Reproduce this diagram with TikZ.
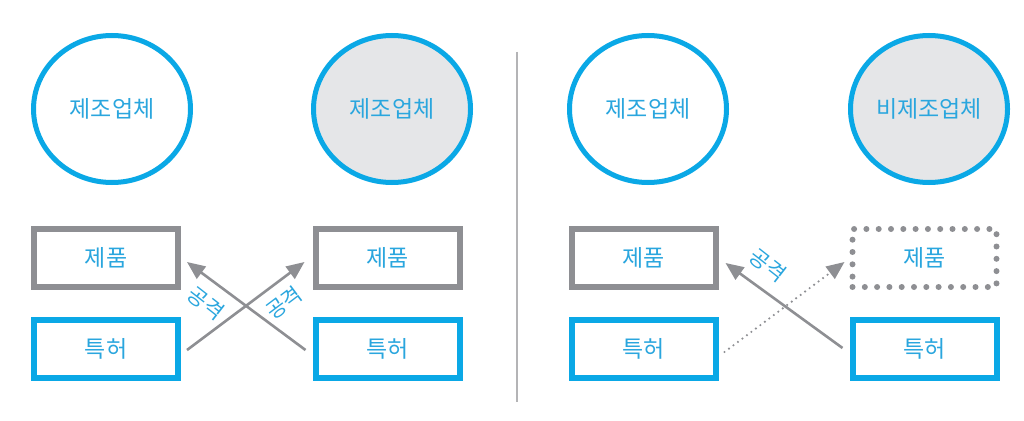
\documentclass[tikz,border=0pt]{standalone}
\usepackage{fontspec}
\setmainfont{Noto Sans CJK KR}
\usetikzlibrary{shapes.geometric,arrows.meta}
\definecolor{cblue}{HTML}{0AA8E6}
\definecolor{tblue}{HTML}{2AA6DE}
\definecolor{cgray}{HTML}{8E8F93}
\definecolor{fgray}{HTML}{E5E6E8}
\definecolor{lgray}{HTML}{B4B4B6}
\tikzset{
  firm/.style={ellipse, draw=cblue, line width=5pt, minimum width=157pt, minimum height=147pt, inner sep=0pt, text=tblue, font=\fontsize{23}{26}\selectfont},
  firmfill/.style={firm, fill=fgray},
  prodbox/.style={rectangle, draw=cgray, line width=6pt, minimum width=144pt, minimum height=58pt, inner sep=0pt, text=tblue, font=\fontsize{23}{26}\selectfont},
  patbox/.style={prodbox, draw=cblue},
  dotbox/.style={prodbox, line width=6pt, dash pattern=on 0pt off 12.3pt, line cap=round},
  arr/.style={draw=cgray, line width=2.6pt, -{Triangle[length=18pt,width=15pt]}},
  dotarr/.style={draw=cgray, line width=2.4pt, dash pattern=on 0pt off 5.6pt, line cap=round, -{Triangle[length=18pt,width=15pt]}},
  lbl/.style={text=tblue, font=\fontsize{21}{22}\selectfont, inner sep=0pt},
  divider/.style={draw=lgray, line width=1.6pt}
}
\begin{document}
\begin{tikzpicture}[x=1pt,y=-1pt]
\useasboundingbox[fill=white] (0,0) rectangle (1024,420);
% left panel
\node[firm] (m1) at (112,109) {제조업체};
\node[firmfill] (m2) at (392,109) {제조업체};
\node[prodbox] (p1) at (106,258) {제품};
\node[patbox] (t1) at (106,349) {특허};
\node[prodbox] (p2) at (387.5,258) {제품};
\node[patbox] (t2) at (387.5,349) {특허};
\draw[arr] ([shift={(-7,1)}]t2.west) -- ([shift={(6,4)}]p1.east);
\draw[arr] ([shift={(6,1)}]t1.east) -- ([shift={(-8,4)}]p2.west);
\node[lbl, rotate=-38] (a1) at (206,303) {공격};
\node[lbl, rotate=37] (a2) at (284,303) {공격};
% divider
\coordinate (d1) at (517,52);
\coordinate (d2) at (517,402);
\draw[divider] (d1) -- (d2);
% right panel
\node[firm] (m3) at (648,109) {제조업체};
\node[firmfill] (m4) at (929,109) {비제조업체};
\node[prodbox] (p3) at (643.5,258) {제품};
\node[patbox] (t3) at (643.5,349) {특허};
\node[dotbox] (p4) at (924.5,258) {제품};
\node[patbox] (t4) at (924.5,349) {특허};
\draw[dotarr] ([shift={(6,3)}]t3.east) -- ([shift={(-5,4)}]p4.west);
\draw[arr] ([shift={(-7,-1)}]t4.west) -- ([shift={(7,5)}]p3.east);
\node[lbl, rotate=-38] (a3) at (768,265) {공격};
\end{tikzpicture}
\end{document}
